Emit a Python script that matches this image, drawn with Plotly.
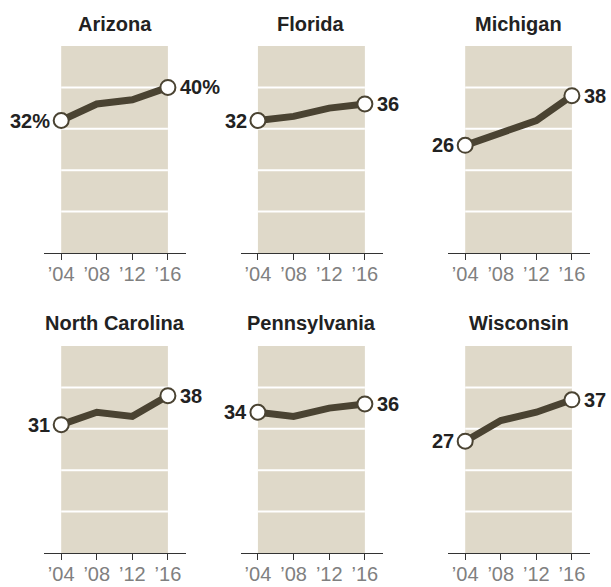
import plotly.graph_objects as go

STATES = ["Arizona", "Florida", "Michigan", "North Carolina", "Pennsylvania", "Wisconsin"]
YEARS = [2004, 2008, 2012, 2016]
TICK_LABELS = ["’04", "’08", "’12", "’16"]
ARIZONA = [32, 36, 37, 40]
FLORIDA = [32, 33, 35, 36]
MICHIGAN = [26, 29, 32, 38]
NORTH_CAROLINA = [31, 34, 33, 38]
PENNSYLVANIA = [34, 33, 35, 36]
WISCONSIN = [27, 32, 34, 37]
SUFFIX = ["%", "", "", "", "", ""]
GRID_VALUES = [10, 20, 30, 40]
Y_MAX = 50

SERIES = [ARIZONA, FLORIDA, MICHIGAN, NORTH_CAROLINA, PENNSYLVANIA, WISCONSIN]

W, H = 611, 587
LINE_COLOR = "#4a4332"
BG_COLOR = "#dfd9c9"
LABEL_FONT = "Liberation Sans, Arial, sans-serif"

# pixel layout of each panel's axis area
col_px = [(44.3, 185.7), (241.0, 382.7), (448.3, 589.7)]
row_px = [(46.0, 253.0), (346.0, 553.0)]
title_y_px = [24, 323]

fig = go.Figure()
layout_axes = {}
shapes = []
annotations = []

for i, (state, vals) in enumerate(zip(STATES, SERIES)):
    r, c = divmod(i, 3)
    n = i + 1
    xa = "x" if n == 1 else f"x{n}"
    ya = "y" if n == 1 else f"y{n}"
    xkey = "xaxis" if n == 1 else f"xaxis{n}"
    ykey = "yaxis" if n == 1 else f"yaxis{n}"
    x0p, x1p = col_px[c]
    y0p, y1p = row_px[r]
    layout_axes[xkey] = dict(
        domain=[x0p / W, x1p / W],
        range=[2002.1, 2018.0],
        anchor=ya,
        automargin=False,
        tickvals=YEARS,
        ticktext=TICK_LABELS,
        ticks="outside",
        ticklen=6,
        tickwidth=1,
        tickcolor="#333333",
        ticklabelstandoff=-3,
        showline=True,
        linecolor="#333333",
        linewidth=1,
        showgrid=False,
        zeroline=False,
        tickfont=dict(family=LABEL_FONT, size=20, color="#808080"),
        fixedrange=True,
    )
    layout_axes[ykey] = dict(
        domain=[(H - y1p) / H, (H - y0p) / H],
        range=[0, Y_MAX],
        anchor=xa,
        automargin=False,
        visible=False,
        fixedrange=True,
    )
    shapes.append(dict(type="rect", xref=xa, yref=ya, x0=YEARS[0], x1=YEARS[-1],
                       y0=0, y1=Y_MAX, fillcolor=BG_COLOR, line=dict(width=0), layer="below"))
    for g in GRID_VALUES:
        shapes.append(dict(type="line", xref=xa, yref=ya, x0=YEARS[0], x1=YEARS[-1],
                           y0=g, y1=g, line=dict(color="white", width=2), layer="below"))
    fig.add_trace(go.Scatter(
        x=YEARS, y=vals, xaxis=xa, yaxis=ya, mode="lines",
        line=dict(color=LINE_COLOR, width=7), hoverinfo="skip", showlegend=False,
        cliponaxis=False,
    ))
    fig.add_trace(go.Scatter(
        x=[YEARS[0], YEARS[-1]], y=[vals[0], vals[-1]], xaxis=xa, yaxis=ya, mode="markers",
        marker=dict(size=15, color="white", line=dict(color=LINE_COLOR, width=2)),
        showlegend=False, cliponaxis=False,
    ))
    annotations.append(dict(xref=xa, yref=ya, x=YEARS[0], y=vals[0],
                            text=f"{vals[0]}{SUFFIX[i]}", showarrow=False,
                            xanchor="right", yanchor="middle", xshift=-9,
                            font=dict(family=LABEL_FONT, size=20, color="#222222", weight="bold")))
    annotations.append(dict(xref=xa, yref=ya, x=YEARS[-1], y=vals[-1],
                            text=f"{vals[-1]}{SUFFIX[i]}", showarrow=False,
                            xanchor="left", yanchor="middle", xshift=10,
                            font=dict(family=LABEL_FONT, size=20, color="#222222", weight="bold")))
    tx = ((x0p + 17) + (x1p - 18)) / 2
    annotations.append(dict(xref="paper", yref="paper", x=tx / W, y=(H - title_y_px[r]) / H,
                            text=state, showarrow=False, xanchor="center", yanchor="middle",
                            font=dict(family=LABEL_FONT, size=20, color="#222222", weight="bold")))

fig.update_layout(
    width=W, height=H,
    margin=dict(l=0, r=0, t=0, b=0, autoexpand=False),
    paper_bgcolor="white", plot_bgcolor="white",
    shapes=shapes, annotations=annotations,
    **layout_axes,
)

fig.write_html(
    "out.html",
    config={"displayModeBar": False},
    post_script="document.body.style.margin='0';document.body.style.overflow='hidden';",
)
